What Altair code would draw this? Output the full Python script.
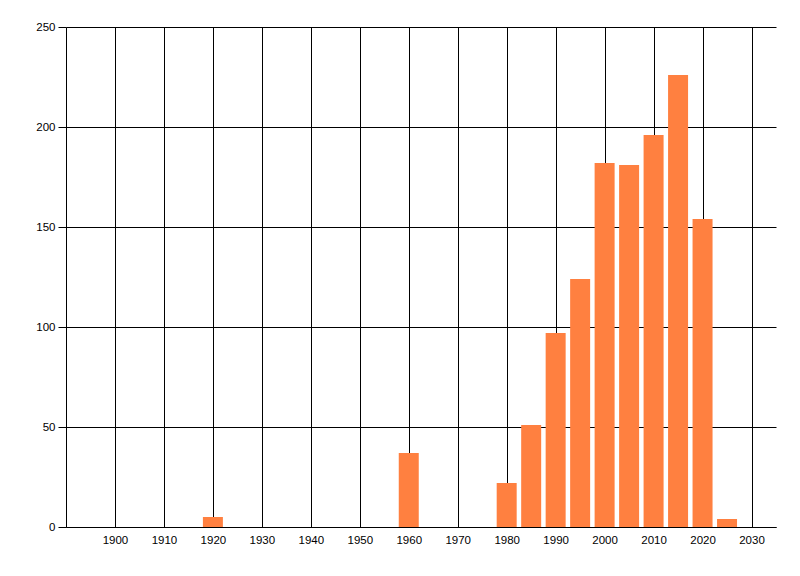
import altair as alt
import pandas as pd

years = [1920, 1960, 1980, 1985, 1990, 1995, 2000, 2005, 2010, 2015, 2020, 2025]
counts = [5, 37, 22, 51, 97, 124, 182, 181, 196, 226, 154, 4]
x_ticks = list(range(1900, 2031, 10))
y_ticks = [0, 50, 100, 150, 200, 250]

df = pd.DataFrame({"year": years, "count": counts})

chart = alt.Chart(df).mark_bar(size=20, color="#FF8040").encode(
    x=alt.X("year:Q",
            scale=alt.Scale(domain=[1890, 2035], nice=False, zero=False, padding=0),
            axis=alt.Axis(values=x_ticks, format="d", grid=True, gridColor="black",
                          gridOpacity=1, gridWidth=1, ticks=False, domain=True,
                          domainColor="black", domainWidth=1, labelPadding=7,
                          labelColor="black", labelFont="Liberation Sans",
                          labelFontSize=11.5, title=None, labelFlush=False)),
    y=alt.Y("count:Q",
            scale=alt.Scale(domain=[0, 250], nice=False, padding=0),
            axis=alt.Axis(values=y_ticks, grid=True, gridColor="black", gridOpacity=1,
                          gridWidth=1, ticks=True, tickSize=8, tickColor="black",
                          tickWidth=1, domain=True, domainColor="black", domainWidth=1,
                          labelPadding=3, labelColor="black", labelFont="Liberation Sans",
                          labelFontSize=11.5, title=None)),
).properties(
    width=710, height=500,
    autosize=alt.AutoSizeParams(type="none"),
    padding={"left": 58, "top": 19, "right": 10, "bottom": 40},
).configure_view(strokeWidth=0)

chart.save("out.html", embed_options={"renderer": "svg", "actions": False})
